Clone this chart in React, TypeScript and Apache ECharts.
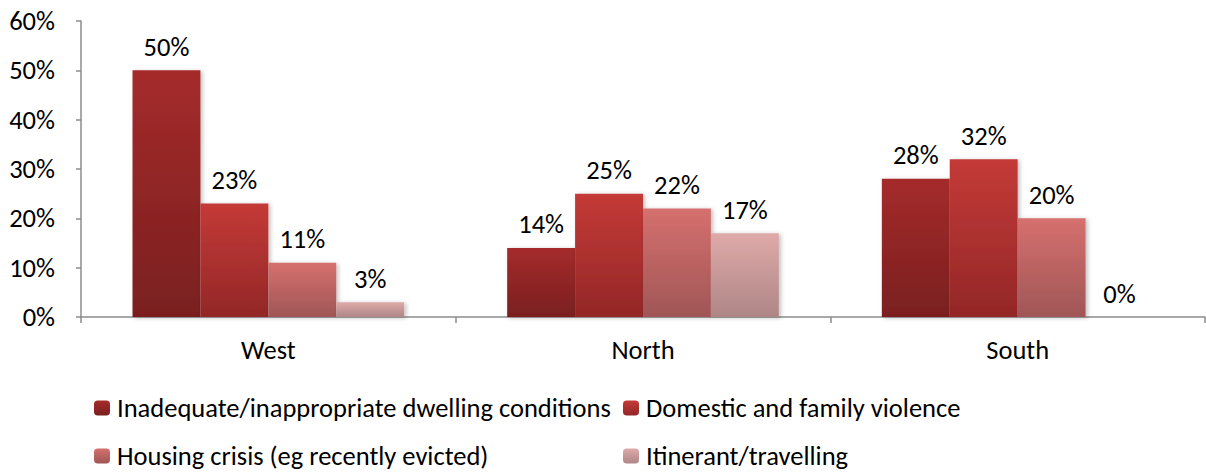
import React, { useEffect, useRef } from "react";
import * as echarts from "echarts";

const regions = ["West", "North", "South"];
const seriesNames = [
  "Inadequate/inappropriate dwelling conditions",
  "Domestic and family violence",
  "Housing crisis (eg recently evicted)",
  "Itinerant/travelling",
];
const dwellingConditions = [50, 14, 28];
const familyViolence = [23, 25, 32];
const housingCrisis = [11, 22, 20];
const itinerant = [3, 17, 0];
const yTicks = [0, 10, 20, 30, 40, 50, 60];

const gradients: [string, string][] = [
  ["#A52B2B", "#7A1F1F"],
  ["#C43A37", "#932727"],
  ["#D5706E", "#A05656"],
  ["#DEAAA9", "#AF8686"],
];

const FONT = "Carlito, 'Open Sans', sans-serif";
const FS = 26.5;

export default function App() {
  const ref = useRef<HTMLDivElement>(null);

  useEffect(() => {
    if (!ref.current) return;
    const chart = echarts.init(ref.current, null, { renderer: "svg" });
    const values = [dwellingConditions, familyViolence, housingCrisis, itinerant];

    // two-column legend grid
    const legendPos = [
      { left: 94, top: 394.5 },
      { left: 623, top: 394.5 },
      { left: 94, top: 442.5 },
      { left: 623, top: 442.5 },
    ];

    chart.setOption({
      animation: false,
      textStyle: { fontFamily: FONT },
      grid: { left: 81, right: 1, top: 21, bottom: 155, containLabel: false },
      legend: seriesNames.map((name, i) => ({
        data: [name],
        left: legendPos[i].left,
        top: legendPos[i].top,
        padding: 0,
        itemWidth: 16,
        itemHeight: 15,
        selectedMode: false,
        textStyle: {
          fontFamily: FONT,
          fontSize: FS,
          lineHeight: 26,
          color: "#000",
          padding: [0, 0, 0, 2],
        },
      })),
      xAxis: {
        type: "category",
        data: regions,
        axisLine: { lineStyle: { color: "#8C8C8C", width: 1.5 } },
        axisTick: { show: true, length: 6, lineStyle: { color: "#8C8C8C", width: 1.5 } },
        axisLabel: { fontFamily: FONT, fontSize: FS, color: "#000", margin: 19 },
      },
      yAxis: {
        type: "value",
        min: yTicks[0],
        max: yTicks[yTicks.length - 1],
        interval: 10,
        splitLine: { show: false },
        axisLine: { show: true, lineStyle: { color: "#8C8C8C", width: 1.5 } },
        axisTick: { show: true, length: 5, lineStyle: { color: "#8C8C8C", width: 1.5 } },
        axisLabel: {
          fontFamily: FONT,
          fontSize: FS,
          color: "#000",
          margin: 26,
          formatter: (v: number) => `${v}%`,
        },
      },
      series: seriesNames.map((name, i) => ({
        name,
        type: "bar",
        data: values[i],
        barGap: "0%",
        barCategoryGap: "27.5%",
        itemStyle: {
          color: new echarts.graphic.LinearGradient(0, 0, 0, 1, [
            { offset: 0, color: gradients[i][0] },
            { offset: 1, color: gradients[i][1] },
          ]),
          shadowColor: "rgba(0,0,0,0.25)",
          shadowBlur: 4,
          shadowOffsetX: 2,
          shadowOffsetY: 1,
        },
        label: {
          show: true,
          position: "top",
          distance: 10,
          fontFamily: FONT,
          fontSize: FS,
          color: "#000",
          formatter: (p: any) => `${p.value}%`,
        },
      })),
    });

    return () => chart.dispose();
  }, []);

  return (
    <div
      ref={ref}
      style={{ position: "fixed", left: 0, top: 0, width: 1206, height: 472, background: "#fff" }}
    />
  );
}
